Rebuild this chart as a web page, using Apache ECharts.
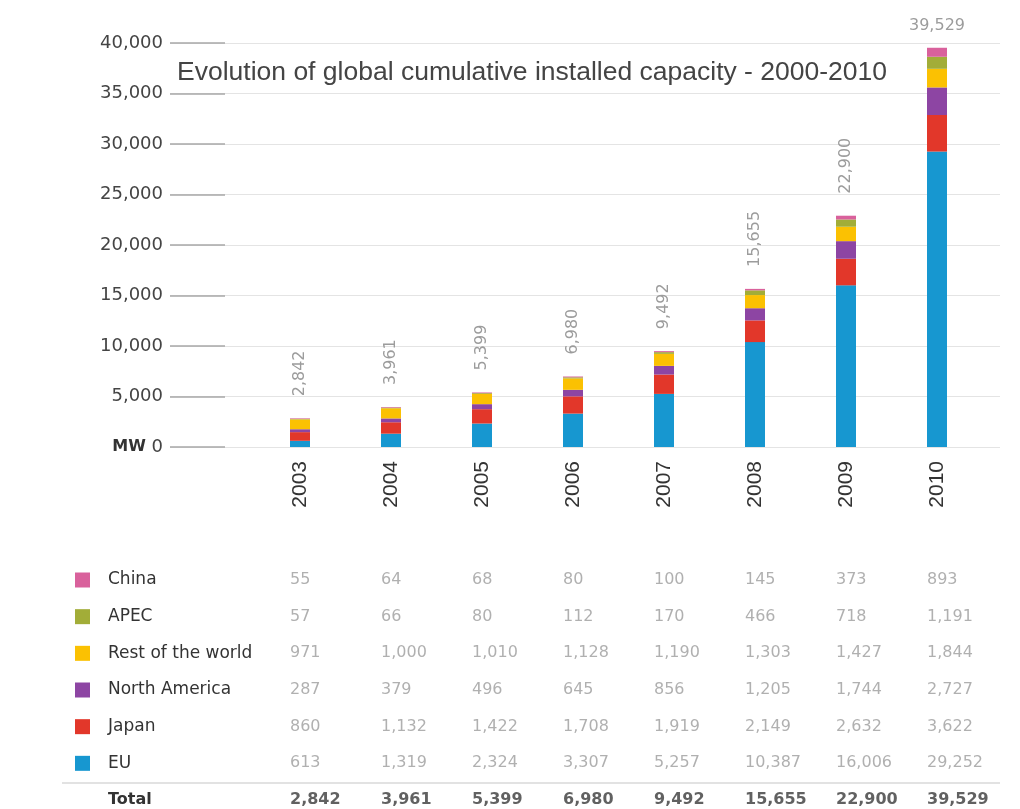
<!DOCTYPE html>
<html>
<head>
<meta charset="utf-8">
<script src="https://cdn.jsdelivr.net/npm/echarts@6/dist/echarts.min.js"></script>
<style>html,body{margin:0;padding:0;background:#fff;}#c{width:1020px;height:809px;}</style>
</head>
<body>
<div id="c"></div>
<script>
// ---- data ----
var years = ['2003', '2004', '2005', '2006', '2007', '2008', '2009', '2010'];
var china = [55, 64, 68, 80, 100, 145, 373, 893];
var apec = [57, 66, 80, 112, 170, 466, 718, 1191];
var restOfWorld = [971, 1000, 1010, 1128, 1190, 1303, 1427, 1844];
var northAmerica = [287, 379, 496, 645, 856, 1205, 1744, 2727];
var japan = [860, 1132, 1422, 1708, 1919, 2149, 2632, 3622];
var eu = [613, 1319, 2324, 3307, 5257, 10387, 16006, 29252];
var totals = [2842, 3961, 5399, 6980, 9492, 15655, 22900, 39529];
var rowNames = ['China', 'APEC', 'Rest of the world', 'North America', 'Japan', 'EU', 'Total'];
var yTicks = { min: 0, max: 40000, interval: 5000 };
var title = 'Evolution of global cumulative installed capacity - 2000-2010';

// ---- styles ----
var colors = {
  'China': '#d9619c', 'APEC': '#a2ad38', 'Rest of the world': '#fbc102',
  'North America': '#8d45a3', 'Japan': '#e2372a', 'EU': '#1797d0'
};
var FONT = 'Liberation Sans, Arial, sans-serif';
var DJ = 'DejaVu Sans, sans-serif';
function fmt(v) { return Number(v).toLocaleString('en-US'); }

var stackSeries = [
  ['EU', eu], ['Japan', japan], ['North America', northAmerica],
  ['Rest of the world', restOfWorld], ['APEC', apec], ['China', china]
].map(function (s, k, arr) {
  var isTop = k === arr.length - 1;
  var data = s[1].map(function (v, i) {
    if (isTop && i === s[1].length - 1) {
      return { value: v, label: { rotate: 0, align: 'center', verticalAlign: 'bottom', distance: 14 } };
    }
    return v;
  });
  return {
    name: s[0], type: 'bar', stack: 'total', xAxisIndex: 1, yAxisIndex: 1,
    barWidth: 20, data: data, itemStyle: { color: colors[s[0]] },
    label: isTop ? {
      show: true, position: 'top', rotate: 90, align: 'left', verticalAlign: 'middle',
      distance: 22, color: '#9c9c9c', fontSize: 16, fontFamily: DJ,
      formatter: function (p) { return fmt(totals[p.dataIndex]); }
    } : { show: false }
  };
});

// table data
var tableRows = [china, apec, restOfWorld, northAmerica, japan, eu];
var tableData = [];
tableRows.forEach(function (row, r) {
  row.forEach(function (v, c) { tableData.push([c, r, v]); });
});
var totalData = totals.map(function (v, c) { return [c, 6, v]; });

var rich = { t: { fontSize: 17, color: '#333', fontFamily: DJ, padding: [0, 0, 0, 18] },
  tb: { fontSize: 16, color: '#333', fontWeight: 'bold', fontFamily: DJ, padding: [0, 0, 0, 18] } };
rowNames.forEach(function (n, i) {
  rich['sw' + i] = { width: 15, height: 15, backgroundColor: colors[n] || 'transparent' };
});

var option = {
  backgroundColor: '#fff',
  animation: false,
  title: { text: title, left: 172, top: 54, textStyle: { fontSize: 26.5, fontWeight: 'normal', color: '#444', fontFamily: FONT } },
  grid: [
    { left: 170, right: 20, top: 43, bottom: 362 },
    { left: 254.5, right: 37.5, top: 43, bottom: 362 },
    { left: 254.5, right: 37.5, top: 580, height: 220 }
  ],
  xAxis: [
    { gridIndex: 0, type: 'value', min: 0, max: 1, show: false },
    { gridIndex: 1, type: 'category', data: years,
      axisLine: { show: false }, axisTick: { show: false },
      axisLabel: { rotate: 90, margin: 14, fontSize: 21, color: '#333', fontFamily: FONT } },
    { gridIndex: 2, type: 'category', data: years, show: false }
  ],
  yAxis: [
    { gridIndex: 0, type: 'value', min: yTicks.min, max: yTicks.max, interval: yTicks.interval,
      axisLine: { show: false },
      axisTick: { show: true, inside: true, length: 55, lineStyle: { color: '#a8a8a8', width: 1.5 } },
      splitLine: { show: true, lineStyle: { color: '#e4e4e4', width: 1 } },
      axisLabel: { margin: 7, fontSize: 18, color: '#444', fontFamily: DJ,
        formatter: function (v) { return v === 0 ? '{mw|MW} 0' : fmt(v); },
        rich: { mw: { fontWeight: 'bold', fontSize: 16, color: '#333', fontFamily: DJ } } } },
    { gridIndex: 1, type: 'value', min: yTicks.min, max: yTicks.max, interval: yTicks.interval, show: false },
    { gridIndex: 2, type: 'category', data: rowNames, inverse: true, boundaryGap: false,
      axisLine: { show: false }, axisTick: { show: false }, splitLine: { show: false },
      axisLabel: { align: 'left', margin: 179.5,
        formatter: function (v, i) { return '{sw' + i + '|}' + (i === 6 ? '{tb|' : '{t|') + v + '}'; },
        rich: rich } }
  ],
  series: stackSeries.concat([
    { type: 'scatter', xAxisIndex: 2, yAxisIndex: 2, symbolSize: 1, itemStyle: { color: 'transparent' },
      data: tableData,
      label: { show: true, position: 'inside', align: 'left', offset: [-10, 0], color: '#9c9c9c', fontSize: 16,
        fontFamily: DJ, formatter: function (p) { return fmt(p.value[2]); } } },
    { type: 'scatter', xAxisIndex: 2, yAxisIndex: 2, symbolSize: 1, itemStyle: { color: 'transparent' },
      data: totalData,
      label: { show: true, position: 'inside', align: 'left', offset: [-10, 0], color: '#3a3a3a', fontSize: 16,
        fontWeight: 'bold', fontFamily: DJ, formatter: function (p) { return fmt(p.value[2]); } } }
  ]),
  graphic: [
    { type: 'line', shape: { x1: 62, y1: 783, x2: 1000, y2: 783 }, style: { stroke: '#d8d8d8', lineWidth: 1.5 } }
  ]
};

var chart = echarts.init(document.getElementById('c'), null, { renderer: 'canvas' });
chart.setOption(option);
</script>
</body>
</html>
